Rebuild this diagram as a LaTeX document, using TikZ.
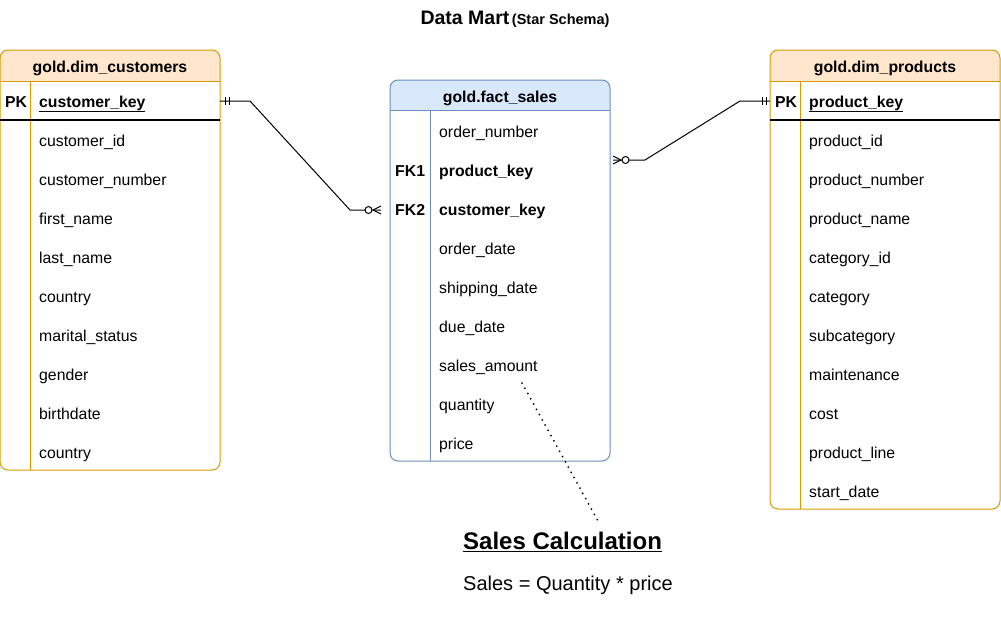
\documentclass[tikz,border=0pt]{standalone}
\usepackage{fontspec}
\setmainfont{Liberation Sans}
\usetikzlibrary{calc}
\definecolor{ofill}{HTML}{FFE6CC}
\definecolor{oline}{HTML}{D79B00}
\definecolor{bfill}{HTML}{DAE8FC}
\definecolor{bline}{HTML}{6C8EBF}
\begin{document}
\begin{tikzpicture}[x=1pt,y=-1pt,
  every node/.style={font=\fontsize{15.8}{19}\selectfont, inner sep=0pt},
  rowtxt/.style={anchor=west, text height=13.5pt, text depth=1.5pt},
  keytxt/.style={rowtxt, font=\fontsize{15.8}{19}\selectfont\bfseries},
  hdrtxt/.style={font=\fontsize{15.8}{19}\selectfont\bfseries, text height=13.5pt, text depth=1.5pt},
  tblbox/.style={draw=#1, line width=1pt, rounded corners=8pt, anchor=north west, inner sep=0pt, outer sep=0pt},
  sep/.style={draw=#1, line width=1pt},
  conn/.style={line width=1pt, black},
  dotline/.style={line width=2pt, line cap=round, dash pattern=on 0pt off 6pt},
]
\useasboundingbox (0,0) rectangle (1001,643);

% title
\node (title) at (515,19) {{\fontsize{19.5}{22}\selectfont\bfseries Data Mart}\,{\fontsize{14.5}{17}\selectfont\bfseries (Star Schema)}};

% ---------- customers ----------
\begin{scope}
\clip[rounded corners=8pt] (0,50) rectangle (220,470);
\fill[ofill] (0,50) rectangle (220,81);
\end{scope}
\node[tblbox=oline, minimum width=220pt, minimum height=420pt] (cust) at (0,50) {};
\draw[sep=oline] (0,81) -- (220,81);
\draw[sep=oline] (30,81) -- (30,470);
\draw[line width=1.2pt] (0,120) -- (220,120);
\node[hdrtxt] (custhdr) at (110,66) {gold.dim\_customers};
\node[keytxt] (custpkl) at (5,101) {PK};
\node[keytxt] (custpk) at (39,101) {\underline{customer\_key}};
\foreach \t [count=\i] in {customer\_id,customer\_number,first\_name,last\_name,country,marital\_status,gender,birthdate,country}
  \node[rowtxt] (cr\i) at (39,101+39*\i) {\t};

% ---------- products ----------
\begin{scope}
\clip[rounded corners=8pt] (770,50) rectangle (1000,509);
\fill[ofill] (770,50) rectangle (1000,81);
\end{scope}
\node[tblbox=oline, minimum width=230pt, minimum height=459pt] (prod) at (770,50) {};
\draw[sep=oline] (770,81) -- (1000,81);
\draw[sep=oline] (800,81) -- (800,509);
\draw[line width=1.2pt] (770,120) -- (1000,120);
\node[hdrtxt] (prodhdr) at (885,66) {gold.dim\_products};
\node[keytxt] (prodpkl) at (775,101) {PK};
\node[keytxt] (prodpk) at (809,101) {\underline{product\_key}};
\foreach \t [count=\i] in {product\_id,product\_number,product\_name,category\_id,category,subcategory,maintenance,cost,product\_line,start\_date}
  \node[rowtxt] (pr\i) at (809,101+39*\i) {\t};

% ---------- fact ----------
\begin{scope}
\clip[rounded corners=8pt] (390,80) rectangle (610,461);
\fill[bfill] (390,80) rectangle (610,110);
\end{scope}
\node[tblbox=bline, minimum width=220pt, minimum height=381pt] (fact) at (390,80) {};
\draw[sep=bline] (390,110) -- (610,110);
\draw[sep=bline] (430,110) -- (430,461);
\node[hdrtxt] (facthdr) at (500,96) {gold.fact\_sales};
\node[rowtxt] (factord) at (439,131) {order\_number};
\node[keytxt] (factfk1l) at (395,170) {FK1};
\node[keytxt] (factfk1) at (439,170) {product\_key};
\node[keytxt] (factfk2l) at (395,209) {FK2};
\node[keytxt] (factfk2) at (439,209) {customer\_key};
\node[rowtxt] (factod) at (439,248) {order\_date};
\node[rowtxt] (factsd) at (439,287) {shipping\_date};
\node[rowtxt] (factdd) at (439,326) {due\_date};
\node[rowtxt] (factsa) at (439,365) {sales\_amount};
\node[rowtxt] (factq) at (439,404) {quantity};
\node[rowtxt] (factp) at (439,443) {price};

% ---------- connectors ----------
\coordinate (ce) at ([xshift=-9pt,yshift=-1pt]fact.west |- factfk2);
\draw[conn] (cust.east |- custpk) -- ++(30,0) -- ([xshift=-31pt]ce) -- (ce);
\draw[conn] ([xshift=5pt]cust.east |- custpk) ++(0,-4) -- ++(0,8);
\draw[conn] ([xshift=9pt]cust.east |- custpk) ++(0,-4) -- ++(0,8);
\draw[conn] ([xshift=-8pt]ce) -- ([yshift=4pt]ce) ([xshift=-8pt]ce) -- ([yshift=-4pt]ce);
\draw[conn, fill=white] ([xshift=-12.5pt]ce) circle (3.5pt);

\coordinate (pe) at ([xshift=3pt,yshift=10pt]fact.east |- factfk1);
\draw[conn] (prod.west |- prodpk) -- ++(-30,0) -- ([xshift=32pt]pe) -- (pe);
\draw[conn] ([xshift=-8pt]prod.west |- prodpk) ++(0,-4) -- ++(0,8);
\draw[conn] ([xshift=-4pt]prod.west |- prodpk) ++(0,-4) -- ++(0,8);
\draw[conn] ([xshift=8pt]pe) -- ([yshift=4pt]pe) ([xshift=8pt]pe) -- ([yshift=-4pt]pe);
\draw[conn, fill=white] ([xshift=12.5pt]pe) circle (3.5pt);

% ---------- sales calculation ----------
\node[font=\fontsize{24}{28}\selectfont\bfseries, anchor=west] (calc) at (463,542) {\underline{Sales Calculation}};
\node[font=\fontsize{20}{24}\selectfont, anchor=west] (formula) at (463,585) {Sales = Quantity * price};
\coordinate (d1) at (522,383);
\draw[dotline] (d1) -- ([xshift=36pt,yshift=10pt]calc.north);
\end{tikzpicture}
\end{document}
